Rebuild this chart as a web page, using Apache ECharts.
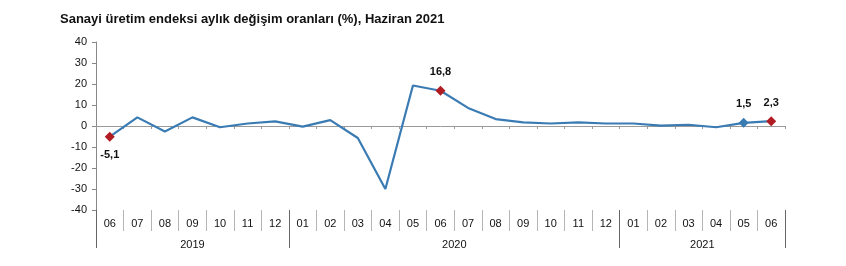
<!DOCTYPE html>
<html>
<head>
<meta charset="utf-8">
<script src="https://cdn.jsdelivr.net/npm/echarts@6/dist/echarts.min.js"></script>
<style>html,body{margin:0;padding:0;background:#fff;}#c{width:846px;height:266px;}</style>
</head>
<body>
<div id="c"></div>
<script>
const titleText = 'Sanayi üretim endeksi aylık değişim oranları (%), Haziran 2021';
const months = ['06','07','08','09','10','11','12','01','02','03','04','05','06','07','08','09','10','11','12','01','02','03','04','05','06'];
const values = [-5.1, 4.1, -2.6, 4.1, -0.6, 1.2, 2.2, -0.3, 2.8, -5.7, -30.0, 19.3, 16.8, 8.6, 3.3, 1.7, 1.2, 1.7, 1.2, 1.2, 0.2, 0.6, -0.6, 1.5, 2.3];
const years = ['2019', '2020', '2021'];
const yearSpans = [7, 12, 6];
const redPoints = [0, 12, 24];
const bluePoints = [23];
const yTicks = [-40, -30, -20, -10, 0, 10, 20, 30, 40];

// year boundaries and centres (in category units)
const yearStarts = [];
const yearCentres = {};
let acc = 0;
yearSpans.forEach((s, i) => { yearStarts.push(acc); yearCentres[Math.round((acc + s / 2) * 2)] = years[i]; acc += s; });

const lineColor = '#3a7bb3';
const red = '#b01c22';
const fmt = v => String(v).replace('.', ',');

const data = values.map((v, i) => {
  const isRed = redPoints.includes(i), isBlue = bluePoints.includes(i);
  if (!isRed && !isBlue) return { value: v, symbol: 'none' };
  return {
    value: v,
    symbol: 'diamond',
    symbolSize: 10,
    itemStyle: { color: isRed ? red : lineColor },
    label: {
      show: true,
      position: v < 0 ? 'bottom' : 'top',
      distance: 8,
      formatter: () => fmt(v),
      fontFamily: 'Liberation Sans, Arial, sans-serif',
      fontWeight: 'bold',
      fontSize: 11,
      color: '#111'
    }
  };
});

const font = 'Liberation Sans, Arial, sans-serif';
const chart = echarts.init(document.getElementById('c'));
chart.setOption({
  animation: false,
  title: {
    text: titleText,
    left: 55, top: 8,
    textStyle: { fontFamily: font, fontWeight: 'bold', fontSize: 13, color: '#111' }
  },
  grid: { left: 96, right: 61, top: 42, bottom: 56, containLabel: false },
  xAxis: [
    {
      type: 'category', data: months, position: 'bottom',
      axisLine: { onZero: true, lineStyle: { color: '#9a9a9a', width: 1 } },
      axisTick: { show: true, interval: 0, length: 3, lineStyle: { color: '#9a9a9a' } },
      axisLabel: { show: false }
    },
    {
      type: 'category', data: months, position: 'bottom',
      axisLine: { show: false, onZero: false },
      axisTick: { show: true, interval: 0, length: 21, lineStyle: { color: '#b5b5b5' } },
      axisLabel: { show: true, interval: 0, margin: 8, fontFamily: font, fontSize: 11, color: '#111' }
    },
    {
      type: 'category', data: months, position: 'bottom',
      axisLine: { show: false, onZero: false },
      axisTick: { show: true, interval: (idx) => yearStarts.includes(idx), length: 38, lineStyle: { color: '#666' } },
      axisLabel: { show: false }
    },
    {
      type: 'value', min: 0, max: months.length, interval: 0.5, position: 'bottom',
      axisLine: { show: false, onZero: false },
      axisTick: { show: false },
      splitLine: { show: false },
      axisLabel: {
        show: true, margin: 29, fontFamily: font, fontSize: 11, color: '#111',
        formatter: (v) => yearCentres[Math.round(v * 2)] || ''
      }
    }
  ],
  yAxis: {
    type: 'value', min: yTicks[0], max: yTicks[yTicks.length - 1], interval: 10,
    axisLine: { show: true, lineStyle: { color: '#888' } },
    axisTick: { show: true, length: 4, lineStyle: { color: '#888' } },
    splitLine: { show: false },
    axisLabel: { margin: 9, fontFamily: font, fontSize: 11, color: '#111' }
  },
  series: [{
    type: 'line',
    xAxisIndex: 0,
    data: data,
    lineStyle: { color: lineColor, width: 2.2 },
    itemStyle: { color: lineColor },
    smooth: false,
    z: 3
  }]
});
</script>
</body>
</html>
